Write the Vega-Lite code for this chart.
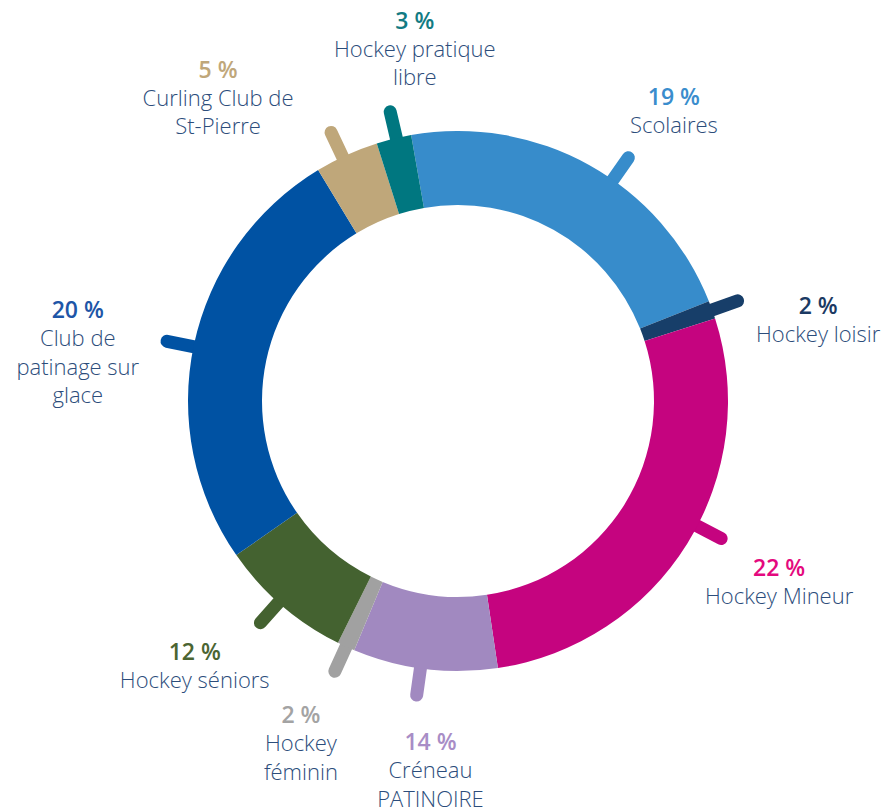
{
  "$schema": "https://vega.github.io/schema/vega-lite/v6.json",
  "width": 856,
  "height": 802,
  "autosize": "none",
  "padding": {"left": 30, "top": 0, "right": 0, "bottom": 7},
  "background": "white",
  "config": {"view": {"stroke": null}},
  "data": {
    "values": [
      {"name": "Scolaires", "pct": "19 %", "label": "Scolaires", "share": 78.3, "rank": 1, "tick": 35, "labelAngle": 35.5, "labelDist": 1.377},
      {"name": "Hockey loisir", "pct": "2 %", "label": "Hockey loisir", "share": 3.9, "rank": 2, "tick": 70.3, "labelAngle": 75.3, "labelDist": 1.379},
      {"name": "Hockey Mineur", "pct": "22 %", "label": "Hockey Mineur", "share": 99.3, "rank": 3, "tick": 117.6, "labelAngle": 117.6, "labelDist": 1.342},
      {"name": "Créneau PATINOIRE", "pct": "14 %", "label": "Créneau\nPATINOIRE", "share": 31.1, "rank": 4, "tick": 188, "labelAngle": 184.6, "labelDist": 1.272},
      {"name": "Hockey féminin", "pct": "2 %", "label": "Hockey\nféminin", "share": 3.8, "rank": 5, "tick": 204.5, "labelAngle": 206.5, "labelDist": 1.304},
      {"name": "Hockey séniors", "pct": "12 %", "label": "Hockey séniors", "share": 28.8, "rank": 6, "tick": 221.7, "labelAngle": 226.2, "labelDist": 1.351},
      {"name": "Club de patinage sur glace", "pct": "20 %", "label": "Club de\npatinage sur\nglace", "share": 93.6, "rank": 7, "tick": 281.6, "labelAngle": 283.3, "labelDist": 1.447},
      {"name": "Curling Club de St-Pierre", "pct": "5 %", "label": "Curling Club de\nSt-Pierre", "share": 13.7, "rank": 8, "tick": 334.7, "labelAngle": 324, "labelDist": 1.512},
      {"name": "Hockey pratique libre", "pct": "3 %", "label": "Hockey pratique\nlibre", "share": 7.5, "rank": 9, "tick": 346.8, "labelAngle": 353.5, "labelDist": 1.413}
    ]
  },
  "layer": [
    {
      "mark": {"type": "arc", "filled": false, "radius": 297, "radius2": 250, "strokeWidth": 13, "strokeJoin": "round", "strokeCap": "round"},
      "encoding": {
        "theta": {"field": "tick", "type": "quantitative", "stack": null, "scale": {"domain": [0, 360], "range": [0, 6.283185307]}},
        "theta2": {"field": "tick"},
        "color": {"field": "name", "type": "nominal", "legend": null,
          "scale": {"domain": ["Scolaires", "Hockey loisir", "Hockey Mineur", "Créneau PATINOIRE", "Hockey féminin", "Hockey séniors", "Club de patinage sur glace", "Curling Club de St-Pierre", "Hockey pratique libre"],
                    "range": ["#378CCB", "#173E69", "#C5047F", "#A189C0", "#A1A1A1", "#446230", "#0052A3", "#BFA77A", "#007780"]}}
      }
    },
    {
      "mark": {"type": "arc", "radius": 270, "radius2": 196},
      "encoding": {
        "theta": {"field": "share", "type": "quantitative", "stack": true, "scale": {"domain": [0, 360], "range": [-0.174533, 6.108652]}},
        "order": {"field": "rank", "type": "quantitative"},
        "color": {"field": "name", "type": "nominal", "legend": null,
          "scale": {"domain": ["Scolaires", "Hockey loisir", "Hockey Mineur", "Créneau PATINOIRE", "Hockey féminin", "Hockey séniors", "Club de patinage sur glace", "Curling Club de St-Pierre", "Hockey pratique libre"],
                    "range": ["#378CCB", "#173E69", "#C5047F", "#A189C0", "#A1A1A1", "#446230", "#0052A3", "#BFA77A", "#007780"]}}
      }
    },
    {
      "mark": {"type": "text", "font": "Open Sans", "fontWeight": 600, "fontSize": 23, "align": "center", "baseline": "middle"},
      "encoding": {
        "theta": {"field": "labelAngle", "type": "quantitative", "stack": null, "scale": {"domain": [0, 360], "range": [0, 6.283185307]}},
        "radius": {"field": "labelDist", "type": "quantitative", "scale": {"type": "linear", "domain": [0, 1], "range": [0, 270], "zero": true}},
        "text": {"field": "pct"},
        "color": {"field": "name", "type": "nominal", "legend": null,
          "scale": {"domain": ["Scolaires", "Hockey loisir", "Hockey Mineur", "Créneau PATINOIRE", "Hockey féminin", "Hockey séniors", "Club de patinage sur glace", "Curling Club de St-Pierre", "Hockey pratique libre"],
                    "range": ["#3A8DCD", "#1B3A63", "#E4097E", "#A88DC6", "#A3A3A3", "#4B6532", "#1E56A7", "#BFA77A", "#127B83"]}}
      }
    },
    {
      "mark": {"type": "text", "font": "Open Sans", "fontWeight": 300, "fontSize": 22, "align": "center", "baseline": "top", "dy": 18, "lineBreak": "\n", "lineHeight": 28.5, "color": "#2C4D7B"},
      "encoding": {
        "theta": {"field": "labelAngle", "type": "quantitative", "stack": null, "scale": {"domain": [0, 360], "range": [0, 6.283185307]}},
        "radius": {"field": "labelDist", "type": "quantitative", "scale": {"type": "linear", "domain": [0, 1], "range": [0, 270], "zero": true}},
        "text": {"field": "label"}
      }
    }
  ],
  "resolve": {"scale": {"theta": "independent", "color": "independent", "radius": "independent"}}
}
